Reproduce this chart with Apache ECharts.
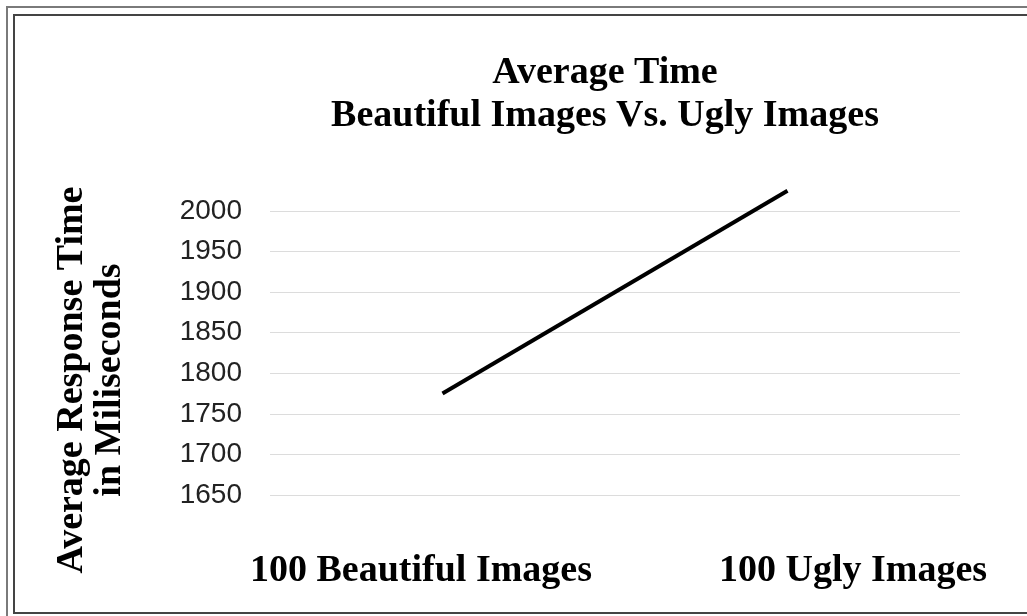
<!DOCTYPE html>
<html>
<head>
<meta charset="utf-8">
<script src="https://cdn.jsdelivr.net/npm/echarts@6/dist/echarts.min.js"></script>
<style>
  html, body { margin: 0; padding: 0; background: #fff; }
  #chart { width: 1027px; height: 616px; }
</style>
</head>
<body>
<div id="chart"></div>
<script>
  // chart data
  var categories = ['100 Beautiful Images', '100 Ugly Images'];
  var responseTimes = [1775, 2025];
  var titleLines = ['Average Time', 'Beautiful Images Vs. Ugly Images'];
  var yAxisTitle = ['Average Response Time', 'in Miliseconds'];
  var yMin = 1650, yMax = 2000, yStep = 50;

  var serif = '"Liberation Serif", "Times New Roman", serif';
  var chart = echarts.init(document.getElementById('chart'));

  var option = {
    backgroundColor: '#fff',
    animation: false,
    title: {
      text: titleLines.join('\n'),
      left: 600,
      textAlign: 'center',
      top: 47,
      textStyle: {
        fontFamily: serif,
        fontWeight: 'bold',
        fontSize: 38,
        lineHeight: 43,
        color: '#000'
      }
    },
    // outer frame of the picture
    graphic: [
      {
        type: 'polyline',
        shape: { points: [[7, 616], [7, 7], [1027, 7]] },
        style: { stroke: '#7a7a7a', lineWidth: 2, fill: null }
      },
      {
        type: 'polyline',
        shape: { points: [[1027, 613], [14, 613], [14, 15], [1027, 15]] },
        style: { stroke: '#444', lineWidth: 2, fill: null }
      }
    ],
    grid: [
      // plot area: gridlines, y ticks and the line
      { left: 270, right: 67, top: 211, bottom: 121 },
      // only carries the category labels
      { left: 421, right: 174, top: 211, bottom: 121 }
    ],
    xAxis: [
      {
        type: 'category',
        gridIndex: 0,
        data: categories,
        boundaryGap: true,
        axisLine: { show: false },
        axisTick: { show: false },
        axisLabel: { show: false }
      },
      {
        type: 'category',
        gridIndex: 1,
        data: categories,
        boundaryGap: false,
        axisLine: { show: false },
        axisTick: { show: false },
        axisLabel: {
          interval: 0,
          margin: 57,
          fontFamily: serif,
          fontWeight: 'bold',
          fontSize: 38,
          color: '#000'
        }
      }
    ],
    yAxis: [
      {
        type: 'value',
        gridIndex: 0,
        min: yMin,
        max: yMax,
        interval: yStep,
        name: yAxisTitle.join('\n'),
        nameLocation: 'middle',
        nameRotate: 90,
        nameGap: 141,
        nameTextStyle: {
          fontFamily: serif,
          fontWeight: 'bold',
          fontSize: 38,
          lineHeight: 38,
          color: '#000',
          padding: [0, 54, 0, 0]
        },
        axisLine: { show: false },
        axisTick: { show: false },
        axisLabel: {
          margin: 28,
          fontFamily: '"Liberation Sans", Arial, sans-serif',
          fontSize: 28,
          color: '#222',
          formatter: function (v) { return String(v); }
        },
        splitLine: { lineStyle: { color: '#dcdcdc', width: 1 } }
      },
      {
        type: 'value',
        gridIndex: 1,
        min: yMin,
        max: yMax,
        show: false
      }
    ],
    series: [
      {
        type: 'line',
        xAxisIndex: 0,
        yAxisIndex: 0,
        data: responseTimes,
        clip: false,
        symbol: 'none',
        lineStyle: { color: '#000', width: 4 }
      }
    ]
  };

  chart.setOption(option);
</script>
</body>
</html>
